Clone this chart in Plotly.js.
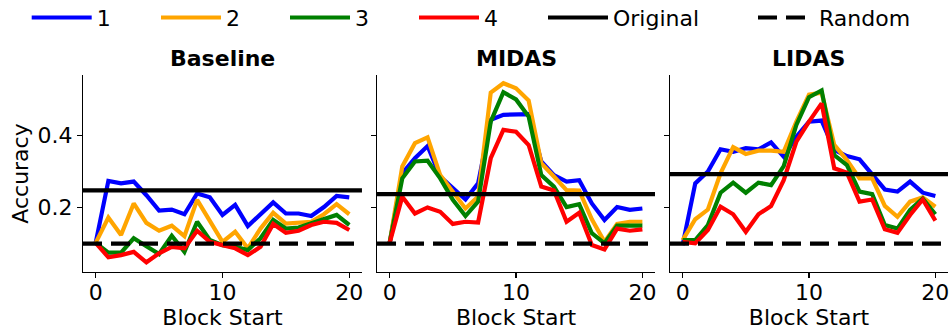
<!DOCTYPE html>
<html><head><meta charset="utf-8">
<script src="https://cdn.plot.ly/plotly-3.0.1.min.js"></script>
<style>html,body{margin:0;padding:0;background:#fff}#chart{width:951px;height:331px}</style>
</head><body><div id="chart"></div>
<script>
// ---- data ----
const blockStart = [0,1,2,3,4,5,6,7,8,9,10,11,12,13,14,15,16,17,18,19,20];
const panelTitles = ['Baseline', 'MIDAS', 'LIDAS'];
const seriesNames = ['1', '2', '3', '4'];
const seriesColors = ['#0000ff', '#ffa500', '#008000', '#ff0000'];

const baseline1 = [0.100,0.273,0.266,0.271,0.233,0.190,0.193,0.180,0.238,0.227,0.178,0.206,0.147,0.180,0.213,0.182,0.182,0.175,0.200,0.231,0.227];
const baseline2 = [0.100,0.171,0.122,0.210,0.156,0.134,0.148,0.119,0.220,0.164,0.103,0.131,0.085,0.140,0.184,0.154,0.156,0.159,0.180,0.208,0.180];
const baseline3 = [0.100,0.073,0.073,0.113,0.091,0.069,0.120,0.075,0.159,0.108,0.094,0.089,0.080,0.113,0.164,0.140,0.143,0.154,0.166,0.178,0.150];
const baseline4 = [0.100,0.060,0.066,0.075,0.046,0.071,0.089,0.085,0.134,0.103,0.094,0.085,0.066,0.089,0.153,0.128,0.134,0.150,0.159,0.156,0.136];

const midas1 = [0.100,0.294,0.336,0.370,0.285,0.252,0.221,0.266,0.443,0.457,0.459,0.459,0.327,0.289,0.271,0.275,0.210,0.164,0.200,0.192,0.196];
const midas2 = [0.100,0.313,0.378,0.394,0.289,0.243,0.196,0.229,0.519,0.545,0.531,0.497,0.322,0.285,0.247,0.246,0.166,0.103,0.153,0.159,0.159];
const midas3 = [0.100,0.280,0.327,0.329,0.280,0.220,0.175,0.215,0.438,0.520,0.500,0.452,0.289,0.257,0.200,0.208,0.127,0.099,0.148,0.148,0.148];
const midas4 = [0.100,0.229,0.182,0.199,0.187,0.153,0.159,0.157,0.336,0.415,0.410,0.373,0.257,0.246,0.159,0.184,0.094,0.082,0.140,0.134,0.138];

const lidas1 = [0.094,0.266,0.299,0.361,0.354,0.364,0.361,0.380,0.340,0.396,0.438,0.441,0.359,0.342,0.333,0.289,0.249,0.243,0.271,0.240,0.231];
const lidas2 = [0.108,0.166,0.193,0.294,0.367,0.348,0.357,0.357,0.354,0.438,0.513,0.519,0.373,0.331,0.280,0.280,0.203,0.173,0.215,0.227,0.201];
const lidas3 = [0.108,0.108,0.150,0.240,0.268,0.240,0.268,0.261,0.314,0.429,0.506,0.525,0.345,0.317,0.243,0.236,0.150,0.140,0.192,0.224,0.180];
const lidas4 = [0.103,0.099,0.136,0.201,0.180,0.131,0.180,0.203,0.275,0.382,0.438,0.489,0.308,0.296,0.215,0.221,0.138,0.128,0.178,0.221,0.162];

const originalAcc = [0.2466, 0.236, 0.292];
const randomAcc = [0.098, 0.098, 0.098];
const xTickVals = [0, 10, 20];
const yTickVals = [0.2, 0.4];
const yTickText = ['0.2', '0.4'];

// ---- layout constants ----
const FONT = 'DejaVu Sans, sans-serif';
const W = 951, H = 331;
const xRange = [-1, 21];
const yRange = [0.019, 0.568];
const domains = [[0, 0.3225], [0.3399, 0.6613], [0.6786, 1]];
const legendSampleStart = [31.7, 161, 290, 419, 548, 758];
const legendItemWidths = [60, 60, 60, 60, 60, 56];
const legendOffset = -5;
const LW = 4.2;

const panelSeries = [
  [baseline1, baseline2, baseline3, baseline4],
  [midas1, midas2, midas3, midas4],
  [lidas1, lidas2, lidas3, lidas4]
];
const legendIds = ['legend', 'legend2', 'legend3', 'legend4', 'legend5', 'legend6'];

const traces = [];
panelSeries.forEach((series, p) => {
  const xa = p === 0 ? 'x' : 'x' + (p + 1);
  const ya = p === 0 ? 'y' : 'y' + (p + 1);
  series.forEach((vals, s) => {
    traces.push({
      type: 'scatter', mode: 'lines', x: blockStart, y: vals,
      name: seriesNames[s], xaxis: xa, yaxis: ya,
      line: {color: seriesColors[s], width: LW},
      showlegend: p === 0, legend: legendIds[s], hoverinfo: 'skip'
    });
  });
  traces.push({
    type: 'scatter', mode: 'lines', x: xRange, y: [originalAcc[p], originalAcc[p]],
    name: 'Original', xaxis: xa, yaxis: ya,
    line: {color: '#000000', width: LW},
    showlegend: p === 0, legend: legendIds[4], hoverinfo: 'skip'
  });
  traces.push({
    type: 'scatter', mode: 'lines', x: xRange, y: [randomAcc[p], randomAcc[p]],
    name: 'Random', xaxis: xa, yaxis: ya,
    line: {color: '#000000', width: LW, dash: '19px,9px'},
    showlegend: p === 0, legend: legendIds[5], hoverinfo: 'skip'
  });
});

const layout = {
  width: W, height: H,
  margin: {l: 83, r: 3, t: 75, b: 59, pad: 0},
  paper_bgcolor: '#ffffff', plot_bgcolor: '#ffffff',
  font: {family: FONT, size: 22, color: '#000000'},
  annotations: [],
};

panelTitles.forEach((t, p) => {
  const sfx = p === 0 ? '' : String(p + 1);
  layout['xaxis' + sfx] = {
    domain: domains[p], range: xRange, anchor: 'y' + sfx,
    tickvals: xTickVals, ticks: 'outside', ticklen: 5, tickwidth: 1.1, tickcolor: '#000',
    ticklabelstandoff: -5,
    showline: true, linecolor: '#000', linewidth: 1.1, mirror: false,
    showgrid: false, zeroline: false,
    tickfont: {family: FONT, size: 22, color: '#000'},
    title: {text: 'Block Start', font: {family: FONT, size: 22, color: '#000'}, standoff: 6},
    automargin: false, fixedrange: true
  };
  layout['yaxis' + sfx] = {
    domain: [0, 1], range: yRange, anchor: 'x' + sfx,
    tickvals: yTickVals, ticktext: yTickText, showticklabels: p === 0,
    ticks: 'outside', ticklen: 5, tickwidth: 1.1, tickcolor: '#000',
    showline: true, linecolor: '#000', linewidth: 1.1, mirror: false,
    showgrid: false, zeroline: false,
    tickfont: {family: FONT, size: 22, color: '#000'},
    title: p === 0 ? {text: 'Accuracy', font: {family: FONT, size: 22, color: '#000'}, standoff: 2} : {text: ''},
    automargin: false, fixedrange: true
  };
  layout.annotations.push({
    text: '<b>' + t + '</b>', xref: 'x' + sfx + ' domain', yref: 'y' + sfx + ' domain',
    x: 0.5, y: 1, xanchor: 'center', yanchor: 'bottom', yshift: 2, showarrow: false,
    font: {family: FONT, size: 22, color: '#000'}
  });
});

legendIds.forEach((id, i) => {
  layout[id] = {
    xref: 'container', yref: 'container',
    x: (legendSampleStart[i] + legendOffset) / W, xanchor: 'left',
    y: 1 - 17.7 / H, yanchor: 'middle',
    orientation: 'h', itemwidth: legendItemWidths[i],
    font: {family: FONT, size: 22, color: '#000'},
    bgcolor: 'rgba(0,0,0,0)', borderwidth: 0
  };
});

Plotly.newPlot('chart', traces, layout, {displayModeBar: false, staticPlot: true});
</script>
</body></html>
